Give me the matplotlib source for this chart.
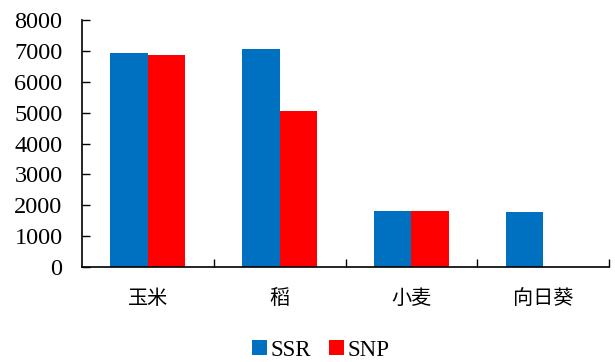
import matplotlib
matplotlib.use("Agg")
import matplotlib.pyplot as plt
import numpy as np

crops = ["玉米", "稻", "小麦", "向日葵"]
ssr = [6940, 7070, 1810, 1780]
snp = [6860, 5060, 1810, 0]
yticks = [0, 1000, 2000, 3000, 4000, 5000, 6000, 7000, 8000]

serif = ["Liberation Serif", "DejaVu Serif"]
cjk = ["Noto Sans CJK SC", "DejaVu Sans"]

fig = plt.figure(figsize=(6.15, 3.62), dpi=100)
ax = fig.add_axes([82 / 615, 1 - 267 / 362, (609 - 82) / 615, (267 - 20) / 362])

x = np.arange(len(crops))
w = 0.285
ax.bar(x - w / 2, ssr, width=w, color="#0070C0", label="SSR")
ax.bar(x + w / 2, snp, width=w, color="#FF0000", label="SNP")

ax.set_xlim(-0.5, len(crops) - 0.5)
ax.set_ylim(0, 8000)
ax.set_yticks(yticks)
ax.set_yticklabels([str(v) for v in yticks], fontfamily=serif, fontsize=17.5)

ax.set_xticks(np.arange(len(crops)) + 0.5)
ax.set_xticklabels([])
ax.set_xticks(x, minor=True)
ax.set_xticklabels(crops, minor=True, fontfamily=cjk, fontsize=14.5)
ax.tick_params(axis="x", which="minor", length=0, pad=15)
ax.tick_params(axis="x", which="major", direction="in", length=6, width=1)
ax.tick_params(axis="y", direction="in", length=6, width=1, pad=14)

for s in ["top", "right"]:
    ax.spines[s].set_visible(False)
for s in ["left", "bottom"]:
    ax.spines[s].set_linewidth(1.2)

leg = fig.legend(loc="center", bbox_to_anchor=(321 / 615, 1 - 350 / 362), ncol=2,
                 frameon=False, prop={"family": serif, "size": 16.5},
                 handlelength=0.65, handleheight=0.65, handletextpad=0.15,
                 columnspacing=0.8, borderaxespad=0)

fig.savefig("out.png", dpi=100)
